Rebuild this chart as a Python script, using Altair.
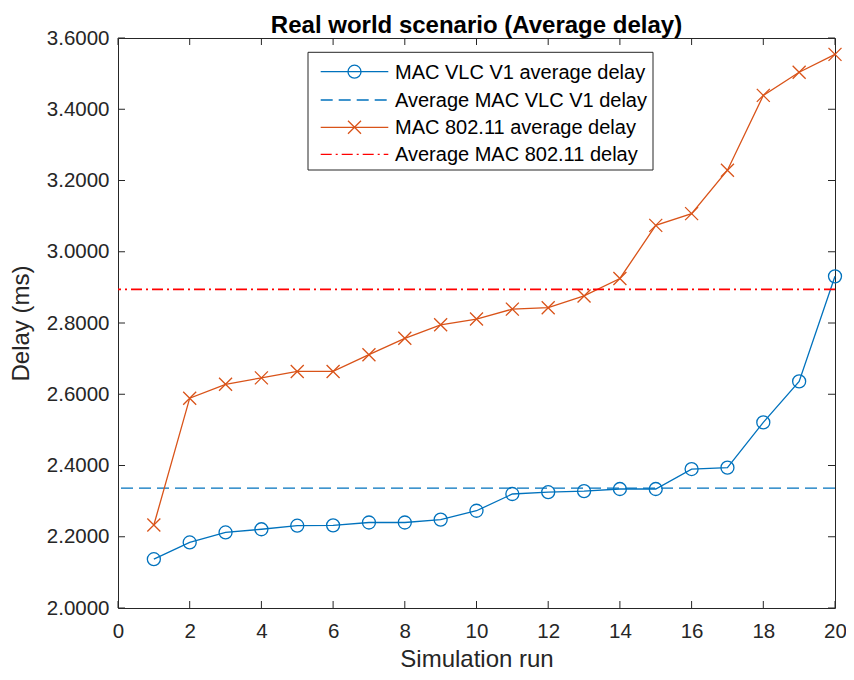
import altair as alt
import pandas as pd

runs = list(range(1, 21))
vlc_delay = [2.137, 2.184, 2.212, 2.221, 2.231, 2.232, 2.240, 2.240, 2.248, 2.273,
             2.320, 2.325, 2.328, 2.334, 2.334, 2.390, 2.394, 2.521, 2.636, 2.931]
wifi_delay = [2.233, 2.589, 2.628, 2.646, 2.664, 2.664, 2.711, 2.757, 2.795, 2.811,
              2.839, 2.843, 2.876, 2.925, 3.074, 3.107, 3.229, 3.439, 3.504, 3.554]
x_ticks = list(range(0, 21, 2))
y_ticks = [2.0, 2.2, 2.4, 2.6, 2.8, 3.0, 3.2, 3.4, 3.6]
labels = ["MAC VLC V1 average delay", "Average MAC VLC V1 delay",
          "MAC 802.11 average delay", "Average MAC 802.11 delay"]

BLUE = "#0072BD"
ORANGE = "#D95319"
RED = "#FF0000"
INK = "#262626"
FONT = "Liberation Sans"
W, H = 717, 570
TL = 7
CROSS = "M-1,-1L1,1M-1,1L1,-1"

vlc_mean = sum(vlc_delay) / len(vlc_delay)
wifi_mean = sum(wifi_delay) / len(wifi_delay)

df_vlc = pd.DataFrame({"run": runs, "delay": vlc_delay})
df_wifi = pd.DataFrame({"run": runs, "delay": wifi_delay})
df_means = pd.DataFrame({"series": ["vlc", "wifi"], "delay": [vlc_mean, wifi_mean]})
df_xt = pd.DataFrame({"v": x_ticks})
df_yt = pd.DataFrame({"v": y_ticks})

xs = alt.Scale(domain=[0, 20], nice=False, zero=False)
ys = alt.Scale(domain=[2.0, 3.6], nice=False, zero=False)

X = alt.X("run:Q", scale=xs, axis=alt.Axis(values=x_ticks, title="Simulation run", format="d"))
Y = alt.Y("delay:Q", scale=ys, axis=alt.Axis(values=y_ticks, title="Delay (ms)", format=".4f"))

vlc_line = alt.Chart(df_vlc).mark_line(color=BLUE, strokeWidth=1.3).encode(x=X, y=Y)
vlc_pts = alt.Chart(df_vlc).mark_point(shape="circle", size=169, color=BLUE, filled=False,
                                       strokeWidth=1.3, opacity=1).encode(x="run:Q", y="delay:Q")
vlc_avg = alt.Chart(df_means[df_means.series == "vlc"]).mark_rule(
    color=BLUE, strokeDash=[12, 6], strokeWidth=1.3).encode(y="delay:Q")
wifi_line = alt.Chart(df_wifi).mark_line(color=ORANGE, strokeWidth=1.3).encode(x="run:Q", y="delay:Q")
wifi_pts = alt.Chart(df_wifi).mark_point(shape=CROSS, size=169, color=ORANGE, filled=False,
                                         strokeWidth=1.3, opacity=1).encode(x="run:Q", y="delay:Q")
wifi_avg = alt.Chart(df_means[df_means.series == "wifi"]).mark_rule(
    color=RED, strokeDash=[11, 4, 2, 4], strokeWidth=1.6).encode(y="delay:Q")

# inward ticks on all four sides (MATLAB box style)
tb = alt.Chart(df_xt).mark_rule(color=INK, strokeWidth=1).encode(
    x=alt.X("v:Q", scale=xs), y=alt.value(H), y2=alt.value(H - TL))
tt = alt.Chart(df_xt).mark_rule(color=INK, strokeWidth=1).encode(
    x=alt.X("v:Q", scale=xs), y=alt.value(0), y2=alt.value(TL))
tlft = alt.Chart(df_yt).mark_rule(color=INK, strokeWidth=1).encode(
    y=alt.Y("v:Q", scale=ys), x=alt.value(0), x2=alt.value(TL))
trgt = alt.Chart(df_yt).mark_rule(color=INK, strokeWidth=1).encode(
    y=alt.Y("v:Q", scale=ys), x=alt.value(W), x2=alt.value(W - TL))

# legend box (manual, to combine markers and dash styles)
LX0, LX1, LY0, LY1 = 190, 535, 14.3, 132
row_y = [33.7, 62.0, 89.3, 116.3]
lx0, lx1, lmx, ltx = 202.7, 270.3, 236.5, 277
leg_df = pd.DataFrame({"label": labels})

legend_layers = [
    alt.Chart(leg_df.iloc[:1]).mark_rect(fill="white", stroke=INK, strokeWidth=1).encode(
        x=alt.value(LX0), x2=alt.value(LX1), y=alt.value(LY0), y2=alt.value(LY1))
]
styles = [
    dict(color=BLUE, dash=None, marker="circle"),
    dict(color=BLUE, dash=[12, 6], marker=None),
    dict(color=ORANGE, dash=None, marker=CROSS),
    dict(color=RED, dash=[11, 4, 2, 4], marker=None),
]
for i, st in enumerate(styles):
    rowdf = leg_df.iloc[i:i + 1]
    rule_kw = dict(color=st["color"], strokeWidth=1.3)
    if st["dash"]:
        rule_kw["strokeDash"] = st["dash"]
    legend_layers.append(alt.Chart(rowdf).mark_rule(**rule_kw).encode(
        x=alt.value(lx0), x2=alt.value(lx1), y=alt.value(row_y[i])))
    if st["marker"]:
        legend_layers.append(alt.Chart(rowdf).mark_point(
            shape=st["marker"], size=169, color=st["color"], filled=False,
            strokeWidth=1.3, opacity=1).encode(x=alt.value(lmx), y=alt.value(row_y[i])))
    legend_layers.append(alt.Chart(rowdf).mark_text(
        align="left", baseline="middle", font=FONT, fontSize=20, color="black").encode(
        x=alt.value(ltx), y=alt.value(row_y[i] + 1), text="label:N"))

chart = alt.layer(
    vlc_line, vlc_pts, vlc_avg, wifi_line, wifi_pts, wifi_avg,
    tb, tt, tlft, trgt, *legend_layers
).properties(
    width=W, height=H,
    title=alt.TitleParams("Real world scenario (Average delay)", font=FONT, fontSize=24,
                          fontWeight="bold", color="black", anchor="middle", frame="group",
                          baseline="alphabetic", offset=-14, dy=15),
    autosize=alt.AutoSizeParams(type="none"),
    padding={"left": 110, "top": 30, "right": 11, "bottom": 64},
).configure_view(
    stroke=INK, strokeWidth=1
).configure_axis(
    grid=False, ticks=False, domain=False, labelFlush=False,
    labelFont=FONT, labelFontSize=20.5, labelColor=INK, labelPadding=9,
    titleFont=FONT, titleFontSize=24, titleColor=INK, titleFontWeight="normal",
).configure_axisX(
    labelPadding=13, titlePadding=6
).configure_axisY(
    titlePadding=13
)

chart.save("out.html", embed_options={"renderer": "svg", "actions": False})
